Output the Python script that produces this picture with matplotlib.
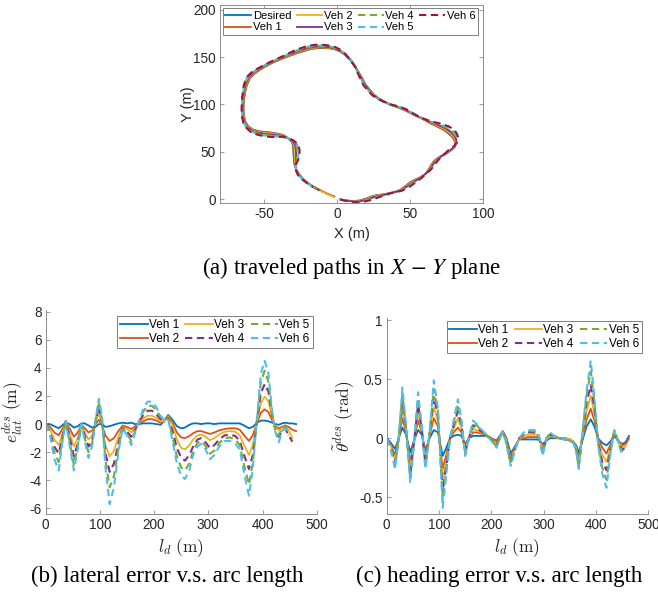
import numpy as np
import matplotlib
matplotlib.use("Agg")
import matplotlib.pyplot as plt

plt.rcParams['font.family'] = ['Liberation Sans', 'DejaVu Sans']
plt.rcParams['axes.unicode_minus'] = False

# --- desired path in the X-Y plane (m), counter-clockwise from the origin ---
PATH_X = [2.5, 6, 11.8, 16, 20.9, 24.5, 27.7, 32, 36.7, 40.5, 43.5, 47, 50.3, 54, 57.1,
          60.5, 62.8, 64.5, 66.2, 68.5, 70.7, 75, 78.7, 80.8, 81, 80.2, 78.7, 76, 73,
          68.5, 63.9, 58.5, 52.6, 47, 41.3, 36.7, 32.2, 28.5, 25.4, 22.5, 19.7, 17.5,
          15.2, 12.5, 9.5, 6, 2.2, -1.5, -5.2, -10, -14.3, -19, -23.4, -28, -32.4, -38,
          -43.8, -48.5, -52.8, -56.5, -59.6, -61.8, -63, -63.8, -64, -63.8, -62.5, -60.5,
          -57.3, -53, -48.3, -43.5, -39.2, -36, -33.5, -31.2, -30.1, -29.8, -29.7, -29.4,
          -29, -27.6, -25.6, -23, -19.9, -16, -12, -7, -1.8]
PATH_Y = [-0.5, -1.5, -2.2, -1.5, 1.0, 3.2, 4.2, 5.0, 6.3, 7.8, 9.8, 13.8, 17.9, 20.8, 22.9,
          26.5, 31, 35.8, 39.7, 42.8, 45, 48.3, 52.1, 55.5, 59, 62.8, 66.1, 69.8, 73.2,
          76.8, 80.2, 84.8, 89.1, 93.6, 97.2, 99.6, 103.1, 106.5, 110.2, 115.5, 120.8, 127,
          133.1, 140.5, 147.2, 152.5, 156.3, 158.3, 159.3, 159.6, 159.3, 158, 156, 153.8,
          151.4, 148, 144.3, 140.5, 136.6, 132.5, 127.8, 120, 112, 104, 96, 88, 81, 76.5,
          73.2, 71.5, 70.8, 69.8, 68.7, 67, 64.4, 61, 57.4, 52, 46.8, 41.5, 36.2, 30.5,
          25.7, 21, 16.9, 13, 9.8, 5.8, 2.7]
PATH_LEN = 462.0

# --- lateral error e_lat (m) vs arc length ---
LAT_L = [0, 8, 16, 24, 30, 37, 44, 52, 59, 66, 72, 79, 86, 92, 98, 104, 110, 118, 126, 134,
         142, 150, 158, 165, 172, 180, 188, 196, 204, 212, 218, 226, 234, 242, 250, 257, 265,
         272, 280, 287, 295, 303, 311, 320, 330, 340, 350, 358, 366, 375, 382, 390, 397, 404,
         411, 418, 424, 430, 436, 442, 448, 455, 462]
nan = np.nan
lat_veh1 = [0, 0.0, -0.15, -0.3, -0.1, 0.1, 0.0, -0.25, -0.15, 0.05, 0.05, -0.1, -0.25, -0.2,
            0.0, 0.0, -0.2, -0.15, -0.05, 0.05, 0.1, 0.05, 0.1, 0.0, 0.0, 0.05, 0.05, 0.05, 0.0,
            -0.05, 0.2, 0.65, 0.3, -0.15, -0.3, -0.25, -0.05, 0.05, 0.05, 0.0, 0.05, 0.05, 0.0,
            0.05, 0.05, 0.05, 0.05, 0.05, -0.1, -0.3, -0.2, 0.1, 0.25, 0.25, 0.2, 0.1, 0.0,
            -0.05, 0.05, 0.1, 0.05, 0.05, 0.0]
lat_veh2 = [0, -0.2, -0.6, -0.8, -0.4, 0.2, -0.3, -0.9, -0.6, -0.05, -0.3, -0.6, -0.45, 0.0,
            0.3, -0.1, -0.8, -1.2, -1.0, -0.5, -0.1, -0.2, -0.35, -0.15, 0.05, 0.2, 0.35, 0.35,
            0.25, 0.1, 0.15, 0.6, 0.1, -0.6, -0.95, -1.0, -0.85, -0.65, -0.5, -0.5, -0.6, -0.7,
            -0.6, -0.45, -0.35, -0.3, -0.3, -0.4, -0.8, -1.2, -0.8, 0.1, 0.8, 1.05, 0.85, 0.25,
            -0.15, -0.3, -0.2, -0.1, -0.2, -0.4, -0.5]
lat_veh3 = [0, -0.4, -1.1, -1.5, -0.8, 0.2, -0.6, -1.6, -1.0, -0.05, -0.6, -1.1, -0.8, 0.1,
            0.8, -0.1, -1.5, -2.3, -1.9, -0.9, -0.2, -0.35, -0.6, -0.25, 0.1, 0.4, 0.6, 0.6,
            0.45, 0.2, 0.2, 0.55, -0.1, -1.1, -1.7, -1.8, -1.5, -1.1, -0.8, -0.75, -0.9, -1.15,
            -1.0, -0.75, -0.55, -0.5, -0.55, -0.8, -1.5, -2.2, -1.5, 0.2, 1.5, 1.95, 1.6, 0.5,
            -0.2, -0.45, -0.3, -0.2, -0.4, -1.0, nan]
lat_veh4 = [0, -0.6, -1.6, -2.1, -1.1, 0.2, -0.9, -2.3, -1.4, 0.0, -0.8, -1.6, -1.1, 0.2,
            1.3, 0.1, -2.0, -3.4, -2.8, -1.4, -0.25, -0.55, -0.9, -0.4, 0.15, 0.65, 0.95, 0.95,
            0.7, 0.35, 0.25, 0.45, -0.5, -1.7, -2.4, -2.6, -2.2, -1.6, -1.1, -1.0, -1.3, -1.7,
            -1.5, -1.1, -0.8, -0.75, -0.85, -1.2, -2.2, -3.2, -2.2, 0.3, 2.2, 2.85, 2.3, 0.6,
            -0.4, -0.9, -0.5, -0.3, -0.8, -1.25, nan]
lat_veh5 = [0, -0.7, -2.0, -2.7, -1.3, 0.2, -1.2, -2.9, -1.6, 0.0, -1.0, -2.0, -1.3, 0.3,
            1.6, 0.3, -2.5, -4.5, -3.7, -1.7, -0.3, -0.7, -1.2, -0.5, 0.2, 0.9, 1.3, 1.3, 1.0,
            0.5, 0.3, 0.4, -0.9, -2.3, -3.1, -3.3, -2.8, -1.9, -1.35, -1.2, -1.55, -2.1, -1.9,
            -1.35, -1.0, -0.95, -1.1, -1.5, -2.9, -4.3, -2.8, 0.4, 3.0, 3.8, 3.0, 0.7, -0.5,
            -0.8, -0.3, -0.1, -0.8, nan, nan]
lat_veh6 = [0, -0.8, -2.5, -3.3, -1.5, 0.2, -1.5, -3.3, -1.8, 0.0, -1.2, -2.4, -1.5, 0.3,
            1.8, 0.5, -3.0, -5.7, -4.5, -2.0, -0.3, -0.8, -1.5, -0.6, 0.2, 1.1, 1.6, 1.6, 1.2,
            0.6, 0.3, 0.35, -1.2, -2.8, -3.7, -3.9, -3.3, -2.2, -1.6, -1.4, -1.8, -2.5, -2.2,
            -1.6, -1.2, -1.2, -1.4, -1.8, -3.5, -5.1, -3.2, 0.5, 3.6, 4.5, 3.6, 0.8, -0.6,
            -1.3, -0.5, -0.3, -0.7, nan, nan]

# --- heading error (rad) vs arc length ---
HEAD_L = [0, 8, 16, 23, 30, 37, 45, 52, 60, 67, 74, 82, 90, 98, 107, 114, 121, 128, 136, 143,
          150, 157, 165, 172, 180, 190, 200, 210, 216, 222, 229, 237, 245, 253, 262, 270, 280,
          288, 292, 298, 305, 312, 320, 330, 340, 350, 357, 362, 367, 374, 382, 390, 397, 404,
          412, 420, 427, 435, 442, 450, 457, 463]
head_veh1 = [0, -0.04, -0.09, 0.0, 0.09, 0.03, -0.12, -0.02, 0.07, 0.03, -0.1, 0.0, 0.07, 0.05,
             -0.15, -0.08, 0.0, 0.02, 0.03, 0.02, -0.05, 0.0, 0.02, 0.02, 0.02, 0.02, 0.0, -0.02,
             0.02, 0.06, 0.0, -0.13, -0.07, -0.01, -0.01, -0.01, -0.01, -0.01, -0.02, -0.05,
             -0.02, 0.0, 0.0, 0.0, 0.0, -0.01, -0.03, -0.06, -0.12, -0.02, 0.1, 0.16, 0.1, 0.0,
             -0.04, -0.06, -0.03, 0.02, -0.02, -0.05, -0.03, 0.02]
head_veh2 = [0, -0.06, -0.14, 0.0, 0.17, 0.05, -0.2, -0.03, 0.15, 0.05, -0.15, 0.02, 0.17, 0.1,
             -0.26, -0.14, 0.0, 0.05, 0.09, 0.05, -0.08, 0.0, 0.05, 0.05, 0.04, 0.03, 0.0, -0.03,
             0.01, 0.06, -0.01, -0.16, -0.08, -0.01, 0.0, 0.01, 0.01, 0.01, -0.01, -0.08, -0.02,
             0.01, 0.01, 0.0, 0.0, -0.01, -0.03, -0.08, -0.17, -0.01, 0.16, 0.25, 0.15, 0.0,
             -0.08, -0.13, -0.06, 0.04, -0.02, -0.06, -0.05, 0.0]
head_veh3 = [0, -0.07, -0.18, 0.0, 0.25, 0.07, -0.26, -0.04, 0.22, 0.07, -0.19, 0.03, 0.26, 0.15,
             -0.35, -0.19, 0.0, 0.08, 0.17, 0.08, -0.1, 0.0, 0.08, 0.07, 0.05, 0.03, 0.0, -0.05,
             0.0, 0.06, -0.02, -0.19, -0.09, -0.01, 0.02, 0.03, 0.03, 0.03, 0.0, -0.1, -0.01,
             0.02, 0.01, 0.0, 0.0, -0.01, -0.03, -0.08, -0.2, 0.01, 0.23, 0.36, 0.21, -0.02,
             -0.14, -0.2, -0.09, 0.05, -0.02, -0.08, -0.07, nan]
head_veh4 = [0, -0.08, -0.21, 0.0, 0.32, 0.08, -0.31, -0.04, 0.29, 0.08, -0.22, 0.04, 0.35, 0.19,
             -0.45, -0.23, 0.0, 0.11, 0.23, 0.11, -0.12, 0.0, 0.11, 0.09, 0.06, 0.03, -0.01,
             -0.06, 0.0, 0.05, -0.03, -0.21, -0.09, 0.0, 0.03, 0.05, 0.05, 0.04, 0.0, -0.12,
             -0.01, 0.03, 0.02, 0.0, -0.01, -0.02, -0.04, -0.09, -0.23, 0.02, 0.3, 0.45, 0.26,
             -0.03, -0.2, -0.27, -0.11, 0.06, -0.02, -0.1, -0.08, nan]
head_veh5 = [0, -0.09, -0.24, 0.0, 0.38, 0.09, -0.35, -0.05, 0.34, 0.09, -0.24, 0.05, 0.42, 0.22,
             -0.52, -0.27, 0.0, 0.13, 0.29, 0.13, -0.14, 0.0, 0.13, 0.11, 0.07, 0.03, -0.02,
             -0.07, 0.0, 0.05, -0.04, -0.22, -0.1, 0.0, 0.04, 0.06, 0.06, 0.05, 0.0, -0.14, 0.0,
             0.04, 0.02, 0.0, -0.01, -0.02, -0.04, -0.1, -0.25, 0.03, 0.36, 0.57, 0.31, -0.04,
             -0.25, -0.35, -0.13, 0.07, -0.02, -0.14, nan, nan]
head_veh6 = [0, -0.1, -0.26, 0.0, 0.43, 0.1, -0.38, -0.05, 0.39, 0.1, -0.26, 0.05, 0.49, 0.25,
             -0.59, -0.3, 0.0, 0.15, 0.33, 0.15, -0.15, 0.0, 0.15, 0.12, 0.08, 0.03, -0.02,
             -0.08, 0.0, 0.05, -0.05, -0.235, -0.1, 0.0, 0.05, 0.07, 0.07, 0.06, 0.0, -0.15, 0.0,
             0.05, 0.02, 0.0, -0.01, -0.02, -0.04, -0.1, -0.26, 0.05, 0.4, 0.66, 0.35, -0.05,
             -0.3, -0.42, -0.15, 0.07, -0.02, -0.12, nan, nan]

VEH_LABELS = ['Veh 1', 'Veh 2', 'Veh 3', 'Veh 4', 'Veh 5', 'Veh 6']
LAT_SERIES = [lat_veh1, lat_veh2, lat_veh3, lat_veh4, lat_veh5, lat_veh6]
HEAD_SERIES = [head_veh1, head_veh2, head_veh3, head_veh4, head_veh5, head_veh6]

# MATLAB default colour order
C_BLUE, C_ORANGE, C_YELLOW = '#0072BD', '#D95319', '#EDB120'
C_PURPLE, C_GREEN, C_CYAN, C_RED = '#7E2F8E', '#77AC30', '#4DBEEE', '#A2142F'
DASH = (0, (3.5, 2.2))
AX_COLOR = '#8c8c8c'
TXT_COLOR = '#262626'

# styles: (colour, linestyle)
PATH_STYLES = [(C_ORANGE, '-'), (C_YELLOW, '-'), (C_PURPLE, '-'),
               (C_GREEN, DASH), (C_CYAN, DASH), (C_RED, DASH)]
ERR_STYLES = [(C_BLUE, '-'), (C_ORANGE, '-'), (C_YELLOW, '-'),
              (C_PURPLE, DASH), (C_GREEN, DASH), (C_CYAN, DASH)]


def style_axes(ax, box):
    for side in ['left', 'bottom', 'top', 'right']:
        ax.spines[side].set_color(AX_COLOR)
        ax.spines[side].set_linewidth(0.7)
    if not box:
        ax.spines['top'].set_visible(False)
        ax.spines['right'].set_visible(False)
    ax.tick_params(direction='in', length=3, width=0.6, color=AX_COLOR,
                   labelcolor=TXT_COLOR, labelsize=9.8, top=box, right=box, pad=3)


def matlab_legend(ax, ncol, loc, anchor, fs):
    leg = ax.legend(ncol=ncol, loc=loc, bbox_to_anchor=anchor, fontsize=fs,
                    frameon=True, fancybox=False, framealpha=1, edgecolor='#7f7f7f',
                    handlelength=2.3, handletextpad=0.15, columnspacing=0.5,
                    borderpad=0.25, labelspacing=0.15, borderaxespad=0)
    leg.get_frame().set_linewidth(0.7)
    return leg


fig = plt.figure(figsize=(6.58, 5.92), dpi=100)
W, H = 658.0, 592.0

# ---------------- (a) paths ----------------
ax_a = fig.add_axes([220 / W, 1 - 203.3 / H, 263 / W, 198.3 / H])
px = np.array(PATH_X)
py = np.array(PATH_Y)
seg = np.hypot(np.diff(px), np.diff(py))
arc = np.concatenate([[0], np.cumsum(seg)])
arc = arc / arc[-1] * PATH_LEN
tx = np.gradient(px)
ty = np.gradient(py)
tn = np.hypot(tx, ty)
nx, ny = -ty / tn, tx / tn

ax_a.plot(px, py, color=C_BLUE, lw=1.3, label='Desired')
for lab, ser, (col, ls) in zip(VEH_LABELS, LAT_SERIES, PATH_STYLES):
    vals = np.array(ser, dtype=float)
    ok = ~np.isnan(vals)
    kl = np.array(LAT_L, dtype=float)[ok]
    keep = arc <= kl[-1]
    e = np.interp(arc[keep], kl, vals[ok])
    ax_a.plot(px[keep] + e * nx[keep], py[keep] + e * ny[keep], color=col,
              linestyle=ls, lw=1.3 if ls == '-' else 1.5, label=lab)

ax_a.set_xlim(-80, 100)
ax_a.set_ylim(-4.5, 205)
ax_a.set_xticks([-50, 0, 50, 100])
ax_a.set_yticks([0, 50, 100, 150, 200])
style_axes(ax_a, box=True)
ax_a.set_xlabel('X (m)', fontsize=10.5, color=TXT_COLOR, labelpad=4)
ax_a.set_ylabel('Y (m)', fontsize=10.5, color=TXT_COLOR, labelpad=-1)
matlab_legend(ax_a, 4, 'upper left', (0.01, 0.985), 8)

# ---------------- (b) lateral error ----------------
ax_b = fig.add_axes([45.7 / W, 1 - 514.3 / H, 271 / W, 204.3 / H])
for lab, ser, (col, ls) in zip(VEH_LABELS, LAT_SERIES, ERR_STYLES):
    ax_b.plot(LAT_L, ser, color=col, linestyle=ls, lw=1.3 if ls == '-' else 1.5, label=lab)
ax_b.set_xlim(0, 500)
ax_b.set_ylim(-6.42, 8.12)
ax_b.set_xticks([0, 100, 200, 300, 400, 500])
ax_b.set_yticks([-6, -4, -2, 0, 2, 4, 6, 8])
style_axes(ax_b, box=False)
ax_b.set_xlabel(r'$l_d\ (\mathrm{m})$', fontsize=12.5, color=TXT_COLOR, labelpad=3,
                math_fontfamily='cm')
ax_b.set_ylabel(r'$e_{lat}^{des}\ (\mathrm{m})$', fontsize=12.5, color=TXT_COLOR, labelpad=3,
                math_fontfamily='cm')
matlab_legend(ax_b, 3, 'upper right', (0.985, 0.97), 8.5)

# ---------------- (c) heading error ----------------
ax_c = fig.add_axes([386.7 / W, 1 - 514.3 / H, 261.6 / W, 196.3 / H])
for lab, ser, (col, ls) in zip(VEH_LABELS, HEAD_SERIES, ERR_STYLES):
    ax_c.plot(HEAD_L, ser, color=col, linestyle=ls, lw=1.3 if ls == '-' else 1.5, label=lab)
ax_c.set_xlim(0, 500)
ax_c.set_ylim(-0.645, 1.02)
ax_c.set_xticks([0, 100, 200, 300, 400, 500])
ax_c.set_yticks([-0.5, 0, 0.5, 1])
ax_c.set_yticklabels(['-0.5', '0', '0.5', '1'])
style_axes(ax_c, box=False)
ax_c.set_xlabel(r'$l_d\ (\mathrm{m})$', fontsize=12.5, color=TXT_COLOR, labelpad=3,
                math_fontfamily='cm')
ax_c.set_ylabel(r'$\tilde{\theta}^{des}\ (\mathrm{rad})$', fontsize=12.5, color=TXT_COLOR,
                labelpad=2, math_fontfamily='cm')
matlab_legend(ax_c, 3, 'upper right', (0.975, 0.985), 8.5)

# ---------------- captions ----------------
cap = dict(fontsize=16.5, family='Liberation Serif', color='black', ha='center', va='center',
           math_fontfamily='stix')
fig.text(351 / W, 1 - 268 / H, r'(a) traveled paths in $X\,-\,Y$ plane', **cap)
fig.text(167 / W, 1 - 576 / H, '(b) lateral error v.s. arc length', **cap)
fig.text(499 / W, 1 - 576 / H, '(c) heading error v.s. arc length', **cap)

fig.savefig('out.png', dpi=100)
